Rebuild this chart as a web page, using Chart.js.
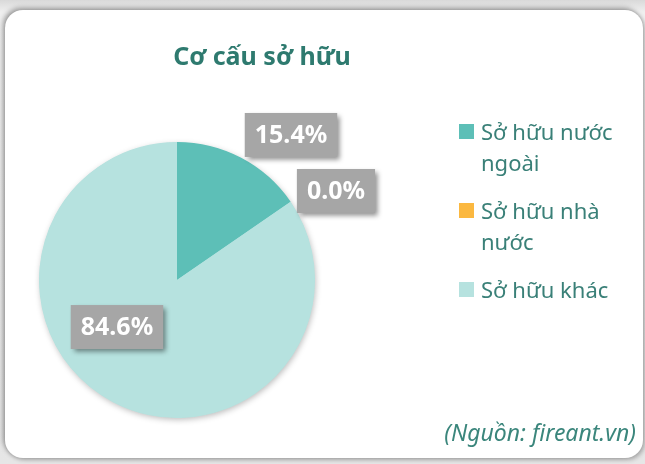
<!DOCTYPE html>
<html>
<head>
<meta charset="utf-8">
<script src="https://cdn.jsdelivr.net/npm/chart.js@4.4.0/dist/chart.umd.min.js"></script>
<style>
  html, body { margin: 0; padding: 0; }
  body {
    width: 645px; height: 464px; overflow: hidden; position: relative;
    background: linear-gradient(#d9d9d9, #efefef 12px, #e6e6e6);
    font-family: "Noto Sans", "Open Sans", sans-serif;
  }
  .card {
    position: absolute; left: 5px; top: 10px; width: 638px; height: 448px;
    background: #fff; border-radius: 18px;
    box-shadow: -2px -2px 5px rgba(0,0,0,0.35), 2px 2px 4px rgba(0,0,0,0.25);
  }
  #pieChart { position: absolute; left: 0; top: 0; }
  .title {
    position: absolute; left: 0; top: 28px; width: 514px; text-align: center;
    font-size: 25px; font-weight: bold; color: #2e7a6f;
  }
  .legend { position: absolute; left: 454px; top: 106px; width: 185px; color: #3a8078; font-size: 22px; }
  .legend .item { position: relative; padding-left: 22px; line-height: 31px; margin-bottom: 17px; }
  .legend .box { position: absolute; left: 0; top: 8px; width: 15px; height: 15px; }
  .source {
    position: absolute; right: 7px; top: 406px;
    font-size: 23px; font-style: italic; color: #3b867c;
  }
</style>
</head>
<body>
<div class="card">
  <canvas id="pieChart" width="638" height="448"></canvas>
  <div class="title">Cơ cấu sở hữu</div>
  <div class="legend" id="legend"></div>
  <div class="source">(Nguồn: fireant.vn)</div>
</div>
<script>
// Cơ cấu sở hữu - data
const categories = ['Sở hữu nước ngoài', 'Sở hữu nhà nước', 'Sở hữu khác'];
const shares = [15.4, 0.0, 84.6];
const sliceColors = ['#5dbfb7', '#fbb840', '#b6e2df'];

// label box centres, in units of the pie radius from the pie centre
const labelSpots = [[0.826, -1.051], [1.152, -0.645], [-0.435, 0.341]];

function buildLegend() {
    const legend = document.getElementById('legend');
    categories.forEach((name, i) => {
        const div = document.createElement('div');
        div.className = 'item';
        div.innerHTML = `<span class="box" style="background:${sliceColors[i]}"></span>${name}`;
        legend.appendChild(div);
    });
}

// soft shadow under the whole pie (drawn once, so slice edges stay clean)
const pieShadow = {
    id: 'pieShadow',
    beforeDatasetsDraw(chart) {
        const arc = chart.getDatasetMeta(0).data[0];
        if (!arc) return;
        const ctx = chart.ctx;
        ctx.save();
        ctx.shadowColor = 'rgba(0,0,0,0.28)';
        ctx.shadowBlur = 6;
        ctx.shadowOffsetX = 1;
        ctx.shadowOffsetY = 2;
        ctx.fillStyle = sliceColors[2];
        ctx.beginPath();
        ctx.arc(arc.x, arc.y, arc.outerRadius - 0.5, 0, Math.PI * 2);
        ctx.fill();
        ctx.restore();
    }
};

const boxLabels = {
    id: 'boxLabels',
    afterDatasetsDraw(chart) {
        const ctx = chart.ctx;
        const arcs = chart.getDatasetMeta(0).data;
        ctx.save();
        ctx.font = 'bold 25px "Noto Sans", "Open Sans", sans-serif';
        ctx.textAlign = 'center';
        ctx.textBaseline = 'middle';
        arcs.forEach((arc, i) => {
            const r = arc.outerRadius;
            const cx = arc.x + labelSpots[i][0] * r;
            const cy = arc.y + labelSpots[i][1] * r;
            const text = shares[i].toFixed(1) + '%';
            const w = ctx.measureText(text).width + 20;
            const h = 44;
            ctx.shadowColor = 'rgba(0,0,0,0.45)';
            ctx.shadowBlur = 5;
            ctx.shadowOffsetX = 3;
            ctx.shadowOffsetY = 3;
            ctx.fillStyle = '#a6a6a6';
            ctx.fillRect(cx - w / 2, cy - h / 2, w, h);
            ctx.shadowColor = 'transparent';
            ctx.fillStyle = '#ffffff';
            ctx.fillText(text, cx, cy + 1);
        });
        ctx.restore();
    }
};

buildLegend();

new Chart(document.getElementById('pieChart'), {
    type: 'pie',
    data: {
        labels: categories,
        datasets: [{
            data: shares,
            backgroundColor: sliceColors,
            borderWidth: 0
        }]
    },
    options: {
        responsive: false,
        animation: false,
        layout: { padding: { left: 34, top: 132, right: 328, bottom: 40 } },
        plugins: {
            legend: { display: false },
            tooltip: { enabled: false }
        }
    },
    plugins: [pieShadow, boxLabels]
});
</script>
</body>
</html>
